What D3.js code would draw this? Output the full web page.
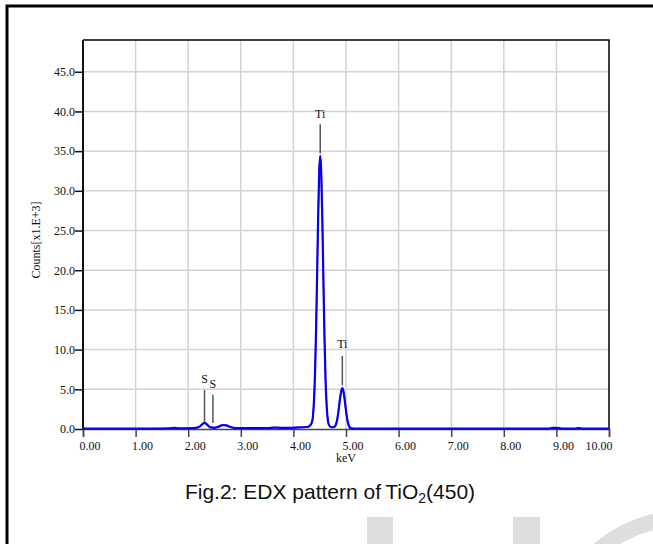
<!DOCTYPE html>
<html><head><meta charset="utf-8">
<script src="https://cdn.jsdelivr.net/npm/d3@7"></script>
<style>
html,body{margin:0;padding:0;background:#fff;}
svg{display:block;}
</style></head>
<body>
<svg id="chart" width="653" height="544"></svg>
<script>
// ---- data ----
const energyKeV = [0.00,0.50,1.00,1.50,1.65,1.74,1.82,2.00,2.10,2.20,2.26,2.31,2.36,2.42,2.50,2.58,2.65,2.72,2.80,2.90,3.00,3.30,3.50,3.65,3.75,3.90,4.10,4.25,4.31,4.35,4.37,4.39,4.41,4.43,4.45,4.47,4.49,4.51,4.53,4.55,4.57,4.59,4.61,4.63,4.65,4.67,4.70,4.74,4.77,4.79,4.81,4.83,4.85,4.87,4.89,4.91,4.93,4.95,4.97,4.99,5.01,5.03,5.05,5.07,5.10,5.20,6.00,7.00,8.00,8.85,8.92,8.98,9.05,9.12,9.35,9.42,9.50,10.00];
const blueCounts = [0.05,0.05,0.05,0.05,0.07,0.14,0.07,0.08,0.10,0.25,0.55,0.80,0.55,0.20,0.15,0.30,0.48,0.45,0.25,0.12,0.10,0.10,0.12,0.18,0.15,0.15,0.20,0.25,0.40,0.80,1.50,3.40,6.80,12.1,19.1,26.5,32.3,34.4,32.2,26.3,18.9,11.8,6.5,3.2,1.4,0.6,0.3,0.22,0.25,0.35,0.60,1.10,1.90,2.95,4.00,4.80,5.15,4.80,3.95,2.85,1.80,1.00,0.50,0.22,0.08,0.05,0.04,0.04,0.04,0.05,0.13,0.15,0.10,0.05,0.05,0.10,0.05,0.04];
const redCounts  = [0.05,0.05,0.05,0.06,0.08,0.16,0.08,0.09,0.10,0.22,0.50,0.72,0.50,0.20,0.18,0.32,0.50,0.48,0.30,0.14,0.11,0.11,0.12,0.20,0.15,0.15,0.20,0.25,0.40,0.80,1.50,3.40,6.80,12.1,19.1,26.5,32.3,34.4,32.2,26.3,18.9,11.8,6.5,3.2,1.4,0.6,0.3,0.22,0.25,0.35,0.60,1.10,1.90,2.95,4.00,4.80,5.15,4.80,3.95,2.85,1.80,1.00,0.50,0.22,0.08,0.05,0.04,0.04,0.04,0.05,0.12,0.14,0.10,0.05,0.05,0.11,0.05,0.04];
const xTicks = [0,1,2,3,4,5,6,7,8,9,10];
const yTicks = [0,5,10,15,20,25,30,35,40,45];
const peakLabels = ["S","S","Ti","Ti"];
const peakEnergy = [2.31,2.47,4.51,4.93];
const peakLineTop = [4.9,4.3,38.4,9.2];
const peakLineBottom = [0.9,0.76,34.7,5.5];
const peakLabelAt = [5.8,5.2,39.2,10.2];

// ---- layout ----
const svg = d3.select("#chart");
const x = d3.scaleLinear().domain([0,10]).range([83,609]);
const y = d3.scaleLinear().domain([0,49]).range([429,40]);
const serif = "'Liberation Serif','Times New Roman',serif";

// watermark shapes
const wm = svg.append("g").attr("fill","#dedede");
wm.append("rect").attr("x",367).attr("y",517).attr("width",26).attr("height",27);
wm.append("rect").attr("x",513).attr("y",517).attr("width",27).attr("height",27);
wm.append("path").attr("transform","translate(685,650)")
  .attr("d", d3.arc().innerRadius(124).outerRadius(140).startAngle(-Math.PI*0.45).endAngle(0.1)());

// outer frame
svg.append("path").attr("d","M7,544 L7,6 L653,6").attr("fill","none").attr("stroke","#000").attr("stroke-width",3);

// grid
const grid = svg.append("g").attr("stroke","#d3d3d3").attr("stroke-width",1.5);
grid.selectAll("line.v").data(xTicks.slice(1,-1)).join("line")
  .attr("x1",d=>x(d)).attr("x2",d=>x(d)).attr("y1",y(49)).attr("y2",y(0));
grid.selectAll("line.h").data(yTicks.slice(1)).join("line")
  .attr("x1",x(0)).attr("x2",x(10)).attr("y1",d=>y(d)).attr("y2",d=>y(d));

// plot border (top/right)
svg.append("path").attr("d",`M${x(0)},${y(49)} L${x(10)},${y(49)} L${x(10)},${y(0)}`)
  .attr("fill","none").attr("stroke","#000").attr("stroke-width",1.5);

// y axis
const yAxis = svg.append("g").attr("transform",`translate(${x(0)},0)`)
  .call(d3.axisLeft(y).tickValues(yTicks).tickFormat(d3.format(".1f")).tickSize(8).tickPadding(0));
yAxis.select(".domain").remove();
yAxis.selectAll(".tick line").attr("stroke","#111").attr("stroke-width",1.5);
yAxis.selectAll("text").attr("font-family",serif).attr("font-size",12).attr("fill","#111");
svg.append("line").attr("x1",x(0)).attr("x2",x(0)).attr("y1",y(49)).attr("y2",y(0)+1)
  .attr("stroke","#111").attr("stroke-width",2);

// x axis
const xAxis = svg.append("g").attr("transform",`translate(0,${y(0)})`)
  .call(d3.axisBottom(x).tickValues(xTicks).tickFormat(d3.format(".2f")).tickSize(8).tickPadding(0));
xAxis.select(".domain").attr("stroke","#444").attr("stroke-width",1.5);
xAxis.selectAll(".tick line").attr("stroke","#444").attr("stroke-width",1.5);
xAxis.selectAll("text").attr("font-family",serif).attr("font-size",12).attr("fill","#111")
  .attr("y",21).attr("dy",0)
  .attr("text-anchor",d=>d===10?"end":"start")
  .attr("x",d=>d===10?3:-4);

// axis titles
svg.append("text").attr("x",x(5)).attr("y",462).attr("text-anchor","middle")
  .attr("font-family",serif).attr("font-size",12).attr("fill","#111").text("keV");
svg.append("text").attr("transform",`translate(40,240) rotate(-90)`).attr("text-anchor","middle")
  .attr("font-family",serif).attr("font-size",12).attr("fill","#111").text("Counts[x1.E+3]");

// spectra
const line = (vals)=>d3.line().x((d,i)=>x(energyKeV[i])).y(d=>y(d)).curve(d3.curveMonotoneX)(vals);
svg.append("path").attr("d",line(redCounts)).attr("fill","none").attr("stroke","#ff0000").attr("stroke-width",1.4);
svg.append("path").attr("d",line(blueCounts)).attr("fill","none").attr("stroke","#0000ff").attr("stroke-width",2.2);

// peak markers
const pk = svg.append("g");
pk.selectAll("line").data(peakEnergy).join("line")
  .attr("x1",d=>x(d)).attr("x2",d=>x(d))
  .attr("y1",(d,i)=>y(peakLineTop[i])).attr("y2",(d,i)=>y(peakLineBottom[i]))
  .attr("stroke","#555").attr("stroke-width",1.5);
pk.selectAll("text").data(peakEnergy).join("text")
  .attr("x",d=>x(d)).attr("y",(d,i)=>y(peakLabelAt[i])).attr("text-anchor","middle")
  .attr("font-family",serif).attr("font-size",12).attr("fill","#111")
  .text((d,i)=>peakLabels[i]);

// caption
const cap = svg.append("text").attr("x",330).attr("y",499).attr("text-anchor","middle")
  .attr("font-family","'Liberation Sans',Arial,sans-serif").attr("font-size",21).attr("fill","#111");
cap.append("tspan").text("Fig.2: EDX pattern of\u2009TiO");
cap.append("tspan").attr("font-size",14).attr("dy",4).text("2");
cap.append("tspan").attr("dy",-4).text("(450)");
</script>
</body></html>
